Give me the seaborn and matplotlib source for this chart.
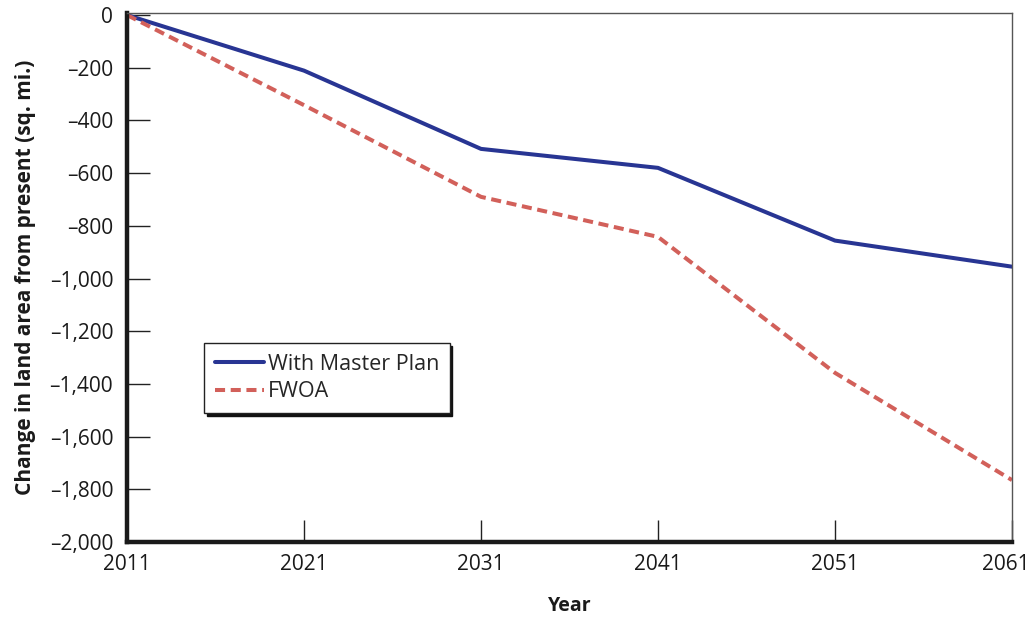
import matplotlib
matplotlib.use("Agg")
import matplotlib.pyplot as plt
import matplotlib.ticker as mticker
import matplotlib.transforms as mtransforms
import pandas as pd
import seaborn as sns

years = [2011, 2021, 2031, 2041, 2051, 2061]
master_plan = [0, -211, -508, -580, -856, -955]
fwoa = [0, -342, -690, -842, -1358, -1765]
series_names = ["With Master Plan", "FWOA"]
y_ticks = list(range(0, -2001, -200))

df = pd.DataFrame({
    "Year": years * 2,
    "Change": master_plan + fwoa,
    "Scenario": [series_names[0]] * len(years) + [series_names[1]] * len(years),
})

sns.set_theme(style="white")
plt.rcParams["font.family"] = ["Open Sans", "DejaVu Sans"]

fig = plt.figure(figsize=(10.32, 6.18), dpi=100)
ax = fig.add_axes([0.1231, 0.1230, 0.8575, 0.8552])

sns.lineplot(
    data=df, x="Year", y="Change", hue="Scenario", style="Scenario",
    palette={series_names[0]: "#283593", series_names[1]: "#d2605a"},
    dashes={series_names[0]: "", series_names[1]: (2.5, 1.4)},
    linewidth=2.9, ax=ax, legend=True,
)

ax.set_xlim(2011, 2061)
ax.set_ylim(-2000, 6)
ax.set_xticks(years)
ax.set_yticks(y_ticks)
ax.yaxis.set_major_formatter(mticker.FuncFormatter(
    lambda v, p: f"{int(v):,}".replace("-", "\u2013")))

ax.tick_params(axis="y", direction="in", length=16.5, width=1, color="#222222",
               labelsize=15, pad=10, left=True, labelcolor="#1a1a1a")
ax.tick_params(axis="x", direction="in", length=16, width=1, color="#222222",
               labelsize=15, pad=9, bottom=True, labelcolor="#1a1a1a")

# keep the last year label inside the figure edge
last = ax.get_xticklabels()[-1]
last.set_transform(last.get_transform() +
                   mtransforms.ScaledTranslation(-6 / 100, 0, fig.dpi_scale_trans))

for side in ("left", "bottom"):
    ax.spines[side].set_linewidth(3.2)
    ax.spines[side].set_color("#1a1a1a")
for side in ("top", "right"):
    ax.spines[side].set_linewidth(1.0)
    ax.spines[side].set_color("#555555")

ax.set_xlabel("Year", fontsize=14, fontweight="bold", labelpad=15, color="#1a1a1a")
ax.set_ylabel("Change in land area from present (sq. mi.)", fontsize=15,
              fontweight="bold", labelpad=10, color="#1a1a1a")

handles, labels = ax.get_legend_handles_labels()
leg = ax.legend(
    handles, labels, loc="upper left", bbox_to_anchor=(0.087, 0.377),
    fontsize=15.5, frameon=True, fancybox=False, edgecolor="#222222",
    shadow={"color": "#111111", "alpha": 1.0}, handlelength=2.3,
    handletextpad=0.15, borderpad=0.5, labelspacing=0.32, borderaxespad=0,
)
leg.get_frame().set_linewidth(1.0)
for line in leg.get_lines():
    line.set_linewidth(2.9)

fig.savefig("out.png", dpi=100)
